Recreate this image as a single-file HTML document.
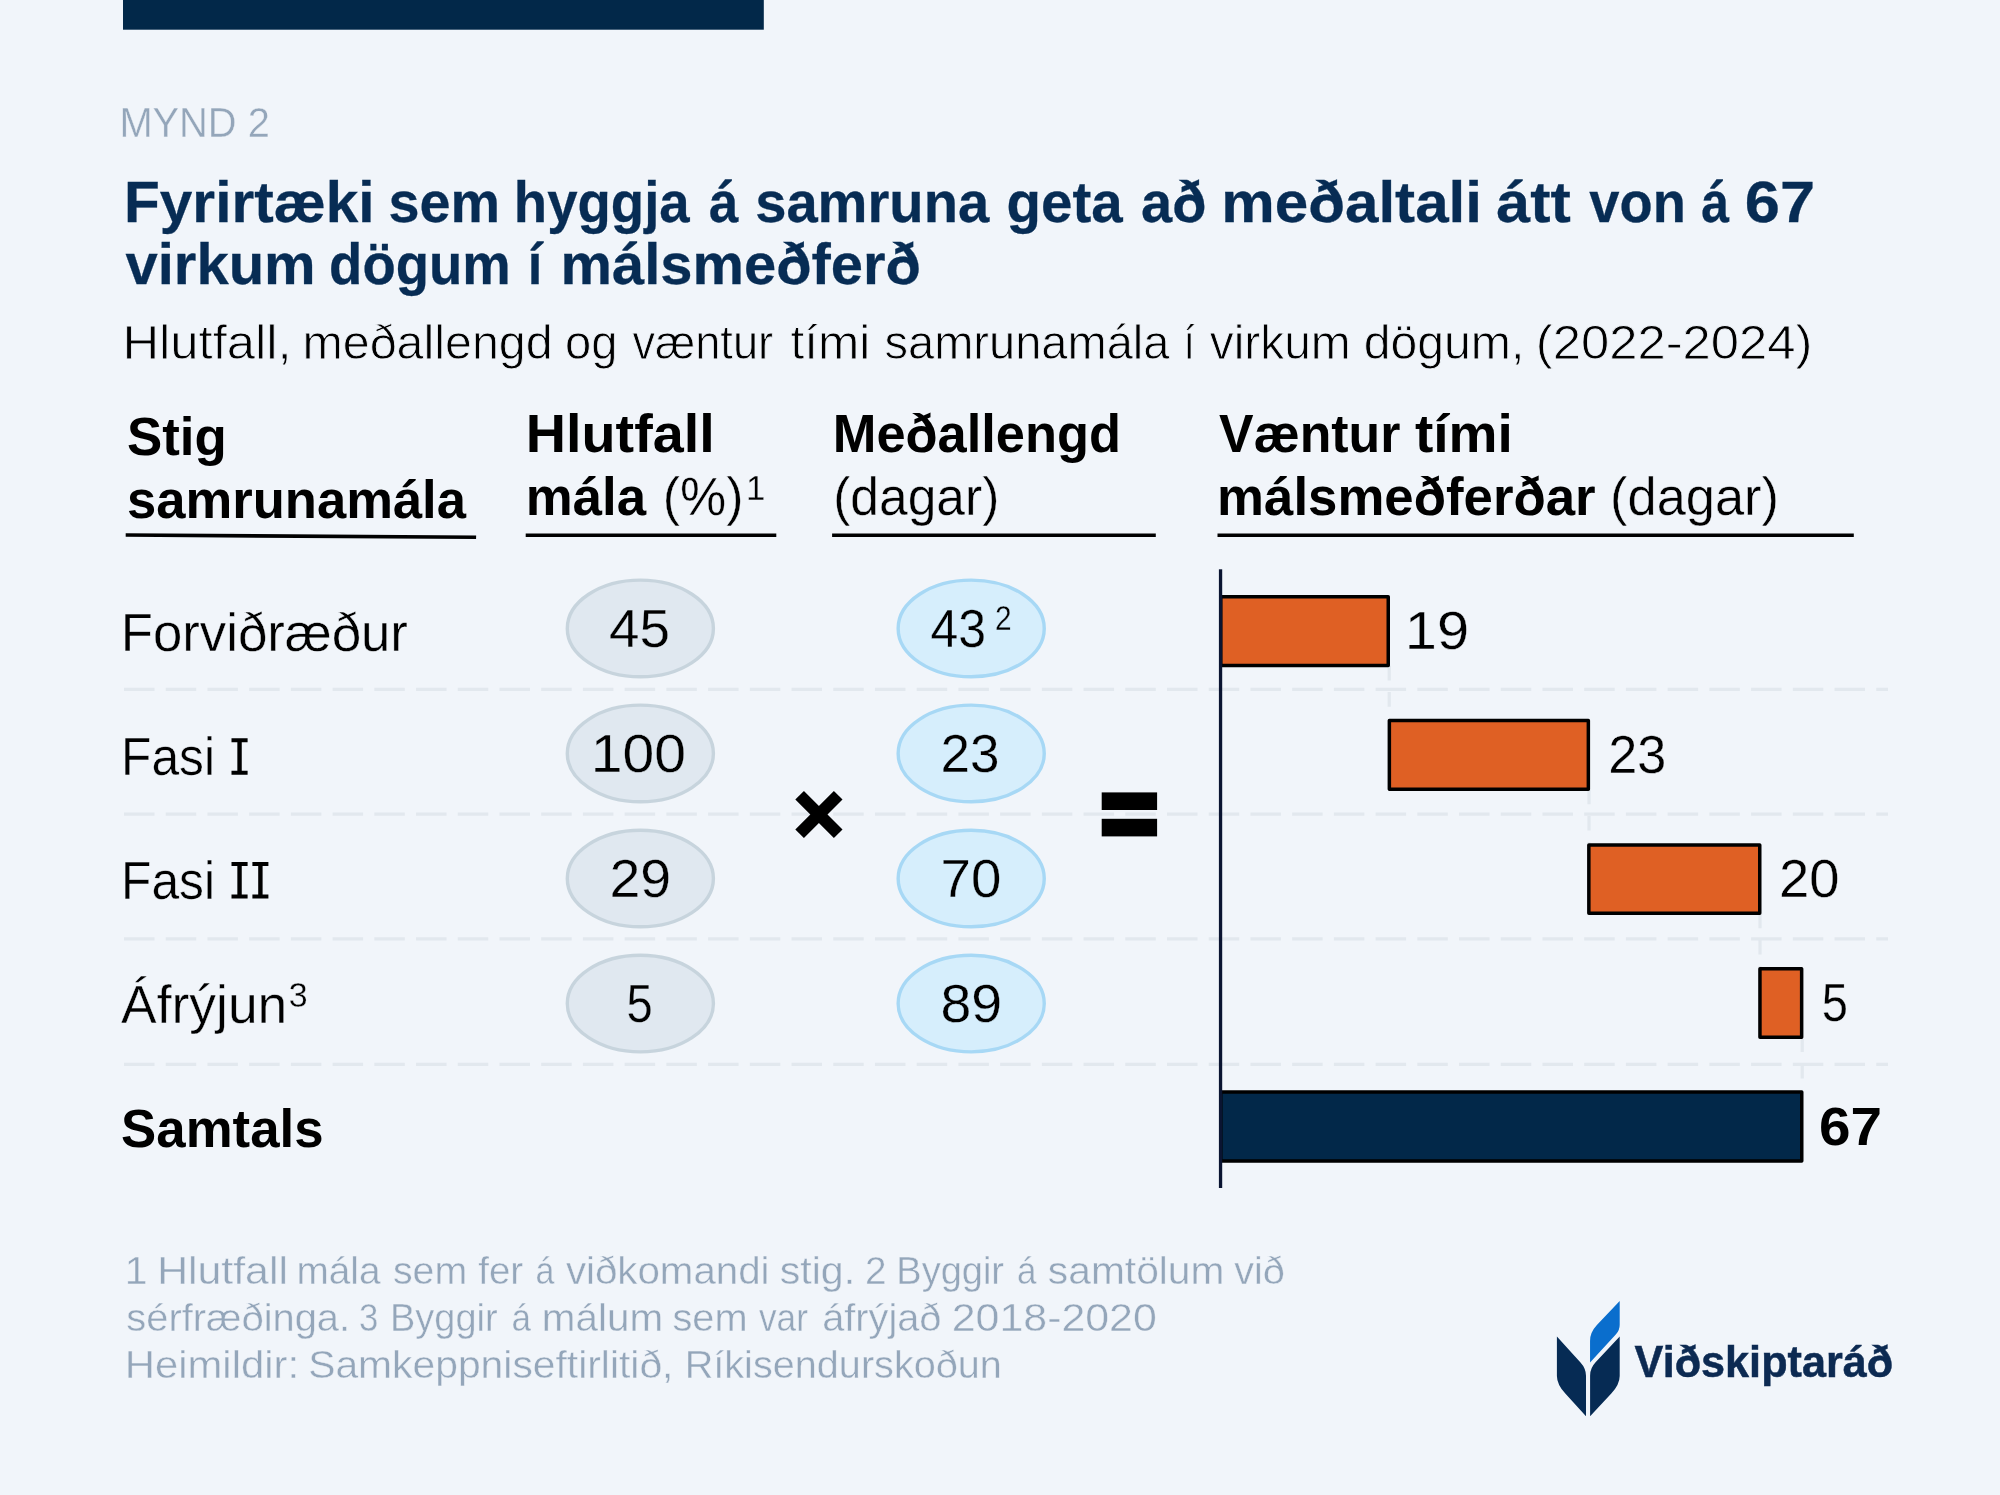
<!DOCTYPE html>
<html><head><meta charset="utf-8"><title>Mynd 2</title>
<style>
html,body{margin:0;padding:0;background:#f1f5fa;}
body{width:2000px;height:1495px;overflow:hidden;}
svg{display:block;will-change:transform;font-family:"Liberation Sans",sans-serif;}
</style></head><body>
<svg width="2000" height="1495" viewBox="0 0 2000 1495">
<rect width="2000" height="1495" fill="#f1f5fa"/>
<rect x="123" y="0" width="640.8" height="29.7" fill="#022849"/>
<line x1="125.7" y1="535.0" x2="476.1" y2="537.3" stroke="#000" stroke-width="3.6"/>
<line x1="525.7" y1="535.2" x2="776.3" y2="535.2" stroke="#000" stroke-width="3.6"/>
<line x1="832.1" y1="535.2" x2="1155.8" y2="535.2" stroke="#000" stroke-width="3.6"/>
<line x1="1217.5" y1="535.2" x2="1853.8" y2="535.2" stroke="#000" stroke-width="3.6"/>
<line x1="124" y1="689.3" x2="1888" y2="689.3" stroke="#e2e8ee" stroke-width="3.2" stroke-dasharray="30.5 11.22"/>
<line x1="124" y1="814.1" x2="1888" y2="814.1" stroke="#e2e8ee" stroke-width="3.2" stroke-dasharray="30.5 11.22"/>
<line x1="124" y1="938.9" x2="1888" y2="938.9" stroke="#e2e8ee" stroke-width="3.2" stroke-dasharray="30.5 11.22"/>
<line x1="124" y1="1064.4" x2="1888" y2="1064.4" stroke="#e2e8ee" stroke-width="3.2" stroke-dasharray="30.5 11.22"/>
<line x1="1389.2" y1="665.8000000000001" x2="1389.2" y2="718.8" stroke="#e2e8ee" stroke-width="3.2" stroke-dasharray="14.6 11.7"/>
<line x1="1589.0" y1="789.7" x2="1589.0" y2="843.2" stroke="#e2e8ee" stroke-width="3.2" stroke-dasharray="14.6 11.7"/>
<line x1="1760.0" y1="913.7" x2="1760.0" y2="967.0" stroke="#e2e8ee" stroke-width="3.2" stroke-dasharray="14.6 11.7"/>
<line x1="1802.2" y1="1037.5" x2="1802.2" y2="1090.2" stroke="#e2e8ee" stroke-width="3.2" stroke-dasharray="14.6 11.7"/>
<ellipse cx="640.35" cy="628.4" rx="73.05" ry="48.3" fill="#e0e8f0" stroke="#c7d4dd" stroke-width="3.4"/>
<ellipse cx="971.2" cy="628.4" rx="73.05" ry="48.3" fill="#d6eefc" stroke="#a7d8f5" stroke-width="3.4"/>
<ellipse cx="640.35" cy="753.4499999999999" rx="73.05" ry="48.3" fill="#e0e8f0" stroke="#c7d4dd" stroke-width="3.4"/>
<ellipse cx="971.2" cy="753.4499999999999" rx="73.05" ry="48.3" fill="#d6eefc" stroke="#a7d8f5" stroke-width="3.4"/>
<ellipse cx="640.35" cy="878.5" rx="73.05" ry="48.3" fill="#e0e8f0" stroke="#c7d4dd" stroke-width="3.4"/>
<ellipse cx="971.2" cy="878.5" rx="73.05" ry="48.3" fill="#d6eefc" stroke="#a7d8f5" stroke-width="3.4"/>
<ellipse cx="640.35" cy="1003.55" rx="73.05" ry="48.3" fill="#e0e8f0" stroke="#c7d4dd" stroke-width="3.4"/>
<ellipse cx="971.2" cy="1003.55" rx="73.05" ry="48.3" fill="#d6eefc" stroke="#a7d8f5" stroke-width="3.4"/>
<g transform="translate(818.9 814.5) rotate(45)"><rect x="-27.3" y="-6.1" width="54.6" height="12.2" fill="#000"/><rect x="-6.1" y="-27.3" width="12.2" height="54.6" fill="#000"/></g>
<rect x="1101.7" y="792.4" width="55.4" height="17.6" fill="#000"/>
<rect x="1101.7" y="818.8" width="55.4" height="17.6" fill="#000"/>
<rect x="1220.75" y="596.65" width="167.5" height="68.80000000000007" fill="#df6024" stroke="#000" stroke-width="3.5" stroke-linejoin="round"/>
<rect x="1389.35" y="720.55" width="199.0" height="68.80000000000007" fill="#df6024" stroke="#000" stroke-width="3.5" stroke-linejoin="round"/>
<rect x="1588.85" y="844.95" width="170.9000000000001" height="68.39999999999998" fill="#df6024" stroke="#000" stroke-width="3.5" stroke-linejoin="round"/>
<rect x="1759.95" y="968.75" width="41.700000000000045" height="68.40000000000009" fill="#df6024" stroke="#000" stroke-width="3.5" stroke-linejoin="round"/>
<rect x="1220.75" y="1091.95" width="581.0" height="69.0" fill="#022849" stroke="#000" stroke-width="3.5" stroke-linejoin="round"/>
<rect x="1218.9" y="569.3" width="3.3" height="618.7" fill="#0a1431"/>
<path d="M231.5 738.1999999999999H247.6V742.1999999999999H241.75V770.8H247.6V774.8H231.5V770.8H237.35000000000002V742.1999999999999H231.5Z" fill="#000"/>
<path d="M231.5 861.9H247.6V865.9H241.75V894.6H247.6V898.6H231.5V894.6H237.35000000000002V865.9H231.5Z" fill="#000"/>
<path d="M252.4 861.9H268.4V865.9H262.59999999999997V894.6H268.4V898.6H252.4V894.6H258.2V865.9H252.4Z" fill="#000"/>
<g>
<path d="M1556.9 1336.5 L1580.5 1362.4 Q1586 1368.4 1586 1375.8 L1586 1416.3 L1565.3 1393.5 Q1556.9 1384.3 1556.9 1375.9 Z" fill="#062b54"/>
<path d="M1619.7 1336.5 L1595.8 1362.1 Q1590.1 1368.2 1590.1 1375.4 L1590.1 1416.3 L1611.3 1393.5 Q1619.7 1384.3 1619.7 1375.9 Z" fill="#062b54"/>
<path d="M1619.7 1300.9 L1619.7 1324.7 Q1619.7 1330.2 1616 1334.2 L1590.05 1362.6 L1590.05 1340.8 Q1590.05 1332.5 1596.9 1325.1 Z" fill="#0a6ecd"/>
</g>
<text x="119.38" y="137" font-size="42.4" font-weight="normal" fill="#94a6ba" stroke="#f1f5fa" stroke-width="0.35" textLength="150.40" lengthAdjust="spacingAndGlyphs">MYND 2</text>
<text x="123.97" y="222" font-size="58.0" font-weight="bold" fill="#072c54" stroke="#072c54" stroke-width="0.3" textLength="250.68" lengthAdjust="spacingAndGlyphs">Fyrirtæki</text>
<text x="388.48" y="222" font-size="58.0" font-weight="bold" fill="#072c54" stroke="#072c54" stroke-width="0.3" textLength="111.55" lengthAdjust="spacingAndGlyphs">sem</text>
<text x="513.84" y="222" font-size="58.0" font-weight="bold" fill="#072c54" stroke="#072c54" stroke-width="0.3" textLength="175.86" lengthAdjust="spacingAndGlyphs">hyggja</text>
<text x="709.09" y="222" font-size="58.0" font-weight="bold" fill="#072c54" stroke="#072c54" stroke-width="0.3" textLength="29.33" lengthAdjust="spacingAndGlyphs">á</text>
<text x="755.16" y="222" font-size="58.0" font-weight="bold" fill="#072c54" stroke="#072c54" stroke-width="0.3" textLength="234.02" lengthAdjust="spacingAndGlyphs">samruna</text>
<text x="1006.55" y="222" font-size="58.0" font-weight="bold" fill="#072c54" stroke="#072c54" stroke-width="0.3" textLength="116.12" lengthAdjust="spacingAndGlyphs">geta</text>
<text x="1141.03" y="222" font-size="58.0" font-weight="bold" fill="#072c54" stroke="#072c54" stroke-width="0.3" textLength="65.34" lengthAdjust="spacingAndGlyphs">að</text>
<text x="1221.29" y="222" font-size="58.0" font-weight="bold" fill="#072c54" stroke="#072c54" stroke-width="0.3" textLength="260.74" lengthAdjust="spacingAndGlyphs">meðaltali</text>
<text x="1496.35" y="222" font-size="58.0" font-weight="bold" fill="#072c54" stroke="#072c54" stroke-width="0.3" textLength="74.48" lengthAdjust="spacingAndGlyphs">átt</text>
<text x="1589.30" y="222" font-size="58.0" font-weight="bold" fill="#072c54" stroke="#072c54" stroke-width="0.3" textLength="96.51" lengthAdjust="spacingAndGlyphs">von</text>
<text x="1701.24" y="222" font-size="58.0" font-weight="bold" fill="#072c54" stroke="#072c54" stroke-width="0.3" textLength="27.82" lengthAdjust="spacingAndGlyphs">á</text>
<text x="1744.82" y="222" font-size="58.0" font-weight="bold" fill="#072c54" stroke="#072c54" stroke-width="0.3" textLength="70.23" lengthAdjust="spacingAndGlyphs">67</text>
<text x="125.50" y="284" font-size="58.0" font-weight="bold" fill="#072c54" stroke="#072c54" stroke-width="0.3" textLength="190.17" lengthAdjust="spacingAndGlyphs">virkum</text>
<text x="329.12" y="284" font-size="58.0" font-weight="bold" fill="#072c54" stroke="#072c54" stroke-width="0.3" textLength="181.64" lengthAdjust="spacingAndGlyphs">dögum</text>
<text x="527.80" y="284" font-size="58.0" font-weight="bold" fill="#072c54" stroke="#072c54" stroke-width="0.3" textLength="14.50" lengthAdjust="spacingAndGlyphs">í</text>
<text x="560.51" y="284" font-size="58.0" font-weight="bold" fill="#072c54" stroke="#072c54" stroke-width="0.3" textLength="360.42" lengthAdjust="spacingAndGlyphs">málsmeðferð</text>
<text x="122.41" y="359" font-size="47.75" font-weight="normal" fill="#000" stroke="#f1f5fa" stroke-width="0.8" textLength="169.33" lengthAdjust="spacingAndGlyphs">Hlutfall,</text>
<text x="302.56" y="359" font-size="47.75" font-weight="normal" fill="#000" stroke="#f1f5fa" stroke-width="0.8" textLength="250.03" lengthAdjust="spacingAndGlyphs">meðallengd</text>
<text x="565.02" y="359" font-size="47.75" font-weight="normal" fill="#000" stroke="#f1f5fa" stroke-width="0.8" textLength="52.50" lengthAdjust="spacingAndGlyphs">og</text>
<text x="632.40" y="359" font-size="47.75" font-weight="normal" fill="#000" stroke="#f1f5fa" stroke-width="0.8" textLength="140.71" lengthAdjust="spacingAndGlyphs">væntur</text>
<text x="790.40" y="359" font-size="47.75" font-weight="normal" fill="#000" stroke="#f1f5fa" stroke-width="0.8" textLength="79.81" lengthAdjust="spacingAndGlyphs">tími</text>
<text x="884.51" y="359" font-size="47.75" font-weight="normal" fill="#000" stroke="#f1f5fa" stroke-width="0.8" textLength="284.95" lengthAdjust="spacingAndGlyphs">samrunamála</text>
<text x="1183.44" y="359" font-size="47.75" font-weight="normal" fill="#000" stroke="#f1f5fa" stroke-width="0.8" textLength="11.41" lengthAdjust="spacingAndGlyphs">í</text>
<text x="1209.80" y="359" font-size="47.75" font-weight="normal" fill="#000" stroke="#f1f5fa" stroke-width="0.8" textLength="140.88" lengthAdjust="spacingAndGlyphs">virkum</text>
<text x="1363.68" y="359" font-size="47.75" font-weight="normal" fill="#000" stroke="#f1f5fa" stroke-width="0.8" textLength="160.72" lengthAdjust="spacingAndGlyphs">dögum,</text>
<text x="1535.87" y="359" font-size="47.75" font-weight="normal" fill="#000" stroke="#f1f5fa" stroke-width="0.8" textLength="276.61" lengthAdjust="spacingAndGlyphs">(2022-2024)</text>
<text x="127.00" y="455" font-size="53.0" font-weight="bold" fill="#000" textLength="99.86" lengthAdjust="spacingAndGlyphs">Stig</text>
<text x="127.01" y="518" font-size="53.0" font-weight="bold" fill="#000" textLength="338.97" lengthAdjust="spacingAndGlyphs">samrunamála</text>
<text x="525.85" y="452" font-size="53.0" font-weight="bold" fill="#000" textLength="188.87" lengthAdjust="spacingAndGlyphs">Hlutfall</text>
<text x="525.76" y="515" font-size="53.0" font-weight="bold" fill="#000" textLength="120.32" lengthAdjust="spacingAndGlyphs">mála</text>
<text x="662.76" y="515" font-size="53.0" font-weight="normal" fill="#000" stroke="#f1f5fa" stroke-width="0.4" textLength="80.84" lengthAdjust="spacingAndGlyphs">(%)</text>
<text x="746.00" y="500" font-size="34.75" font-weight="normal" fill="#000" stroke="#f1f5fa" stroke-width="0.3" textLength="19.33" lengthAdjust="spacingAndGlyphs">1</text>
<text x="832.73" y="452" font-size="53.0" font-weight="bold" fill="#000" textLength="288.30" lengthAdjust="spacingAndGlyphs">Meðallengd</text>
<text x="833.18" y="515" font-size="53.0" font-weight="normal" fill="#000" stroke="#f1f5fa" stroke-width="0.4" textLength="166.20" lengthAdjust="spacingAndGlyphs">(dagar)</text>
<text x="1219.10" y="452" font-size="53.0" font-weight="bold" fill="#000" textLength="181.31" lengthAdjust="spacingAndGlyphs">Væntur</text>
<text x="1414.90" y="452" font-size="53.0" font-weight="bold" fill="#000" textLength="97.87" lengthAdjust="spacingAndGlyphs">tími</text>
<text x="1217.11" y="515" font-size="53.0" font-weight="bold" fill="#000" textLength="378.51" lengthAdjust="spacingAndGlyphs">málsmeðferðar</text>
<text x="1610.03" y="515" font-size="53.0" font-weight="normal" fill="#000" stroke="#f1f5fa" stroke-width="0.4" textLength="168.99" lengthAdjust="spacingAndGlyphs">(dagar)</text>
<text x="120.79" y="651" font-size="53.3" font-weight="normal" fill="#000" stroke="#f1f5fa" stroke-width="0.4" textLength="287.15" lengthAdjust="spacingAndGlyphs">Forviðræður</text>
<text x="121.02" y="775" font-size="53.3" font-weight="normal" fill="#000" stroke="#f1f5fa" stroke-width="0.4" textLength="93.93" lengthAdjust="spacingAndGlyphs">Fasi</text>
<text x="121.02" y="899" font-size="53.3" font-weight="normal" fill="#000" stroke="#f1f5fa" stroke-width="0.4" textLength="93.93" lengthAdjust="spacingAndGlyphs">Fasi</text>
<text x="121.10" y="1023" font-size="53.3" font-weight="normal" fill="#000" stroke="#f1f5fa" stroke-width="0.4" textLength="166.25" lengthAdjust="spacingAndGlyphs">Áfrýjun</text>
<text x="288.82" y="1007" font-size="34.75" font-weight="normal" fill="#000" stroke="#f1f5fa" stroke-width="0.3" textLength="18.87" lengthAdjust="spacingAndGlyphs">3</text>
<text x="121.11" y="1147" font-size="53.3" font-weight="bold" fill="#000" textLength="202.42" lengthAdjust="spacingAndGlyphs">Samtals</text>
<text x="608.97" y="647" font-size="53.0" font-weight="normal" fill="#000" stroke="#e0e8f0" stroke-width="0.3" textLength="60.96" lengthAdjust="spacingAndGlyphs">45</text>
<text x="590.89" y="772" font-size="53.0" font-weight="normal" fill="#000" stroke="#e0e8f0" stroke-width="0.3" textLength="95.20" lengthAdjust="spacingAndGlyphs">100</text>
<text x="609.41" y="897" font-size="53.0" font-weight="normal" fill="#000" stroke="#e0e8f0" stroke-width="0.3" textLength="61.68" lengthAdjust="spacingAndGlyphs">29</text>
<text x="626.52" y="1022" font-size="53.0" font-weight="normal" fill="#000" stroke="#e0e8f0" stroke-width="0.3" textLength="26.19" lengthAdjust="spacingAndGlyphs">5</text>
<text x="930.56" y="647" font-size="53.0" font-weight="normal" fill="#000" stroke="#d6eefc" stroke-width="0.3" textLength="55.53" lengthAdjust="spacingAndGlyphs">43</text>
<text x="994.93" y="630" font-size="34.75" font-weight="normal" fill="#000" stroke="#d6eefc" stroke-width="0.3" textLength="16.62" lengthAdjust="spacingAndGlyphs">2</text>
<text x="940.60" y="772" font-size="53.0" font-weight="normal" fill="#000" stroke="#d6eefc" stroke-width="0.3" textLength="58.98" lengthAdjust="spacingAndGlyphs">23</text>
<text x="940.54" y="897" font-size="53.0" font-weight="normal" fill="#000" stroke="#d6eefc" stroke-width="0.3" textLength="60.78" lengthAdjust="spacingAndGlyphs">70</text>
<text x="940.51" y="1022" font-size="53.0" font-weight="normal" fill="#000" stroke="#d6eefc" stroke-width="0.3" textLength="61.68" lengthAdjust="spacingAndGlyphs">89</text>
<text x="1404.84" y="649" font-size="53.0" font-weight="normal" fill="#000" stroke="#f1f5fa" stroke-width="0.3" textLength="64.26" lengthAdjust="spacingAndGlyphs">19</text>
<text x="1608.13" y="773" font-size="53.0" font-weight="normal" fill="#000" stroke="#f1f5fa" stroke-width="0.3" textLength="58.02" lengthAdjust="spacingAndGlyphs">23</text>
<text x="1779.05" y="897" font-size="53.0" font-weight="normal" fill="#000" stroke="#f1f5fa" stroke-width="0.3" textLength="60.47" lengthAdjust="spacingAndGlyphs">20</text>
<text x="1821.72" y="1021" font-size="53.0" font-weight="normal" fill="#000" stroke="#f1f5fa" stroke-width="0.3" textLength="26.19" lengthAdjust="spacingAndGlyphs">5</text>
<text x="1818.93" y="1145" font-size="53.0" font-weight="bold" fill="#000" textLength="63.05" lengthAdjust="spacingAndGlyphs">67</text>
<text x="124.80" y="1284" font-size="39.5" font-weight="normal" fill="#94a6ba" stroke="#f1f5fa" stroke-width="0.4" textLength="22.70" lengthAdjust="spacingAndGlyphs">1</text>
<text x="157.15" y="1284" font-size="39.5" font-weight="normal" fill="#94a6ba" stroke="#f1f5fa" stroke-width="0.4" textLength="130.77" lengthAdjust="spacingAndGlyphs">Hlutfall</text>
<text x="296.44" y="1284" font-size="39.5" font-weight="normal" fill="#94a6ba" stroke="#f1f5fa" stroke-width="0.4" textLength="84.03" lengthAdjust="spacingAndGlyphs">mála</text>
<text x="392.91" y="1284" font-size="39.5" font-weight="normal" fill="#94a6ba" stroke="#f1f5fa" stroke-width="0.4" textLength="74.19" lengthAdjust="spacingAndGlyphs">sem</text>
<text x="478.20" y="1284" font-size="39.5" font-weight="normal" fill="#94a6ba" stroke="#f1f5fa" stroke-width="0.4" textLength="45.05" lengthAdjust="spacingAndGlyphs">fer</text>
<text x="535.41" y="1284" font-size="39.5" font-weight="normal" fill="#94a6ba" stroke="#f1f5fa" stroke-width="0.4" textLength="18.89" lengthAdjust="spacingAndGlyphs">á</text>
<text x="565.90" y="1284" font-size="39.5" font-weight="normal" fill="#94a6ba" stroke="#f1f5fa" stroke-width="0.4" textLength="203.61" lengthAdjust="spacingAndGlyphs">viðkomandi</text>
<text x="779.66" y="1284" font-size="39.5" font-weight="normal" fill="#94a6ba" stroke="#f1f5fa" stroke-width="0.4" textLength="75.44" lengthAdjust="spacingAndGlyphs">stig.</text>
<text x="865.02" y="1284" font-size="39.5" font-weight="normal" fill="#94a6ba" stroke="#f1f5fa" stroke-width="0.4" textLength="21.51" lengthAdjust="spacingAndGlyphs">2</text>
<text x="896.31" y="1284" font-size="39.5" font-weight="normal" fill="#94a6ba" stroke="#f1f5fa" stroke-width="0.4" textLength="107.73" lengthAdjust="spacingAndGlyphs">Byggir</text>
<text x="1017.01" y="1284" font-size="39.5" font-weight="normal" fill="#94a6ba" stroke="#f1f5fa" stroke-width="0.4" textLength="19.46" lengthAdjust="spacingAndGlyphs">á</text>
<text x="1047.87" y="1284" font-size="39.5" font-weight="normal" fill="#94a6ba" stroke="#f1f5fa" stroke-width="0.4" textLength="176.60" lengthAdjust="spacingAndGlyphs">samtölum</text>
<text x="1234.20" y="1284" font-size="39.5" font-weight="normal" fill="#94a6ba" stroke="#f1f5fa" stroke-width="0.4" textLength="50.57" lengthAdjust="spacingAndGlyphs">við</text>
<text x="126.29" y="1331" font-size="39.5" font-weight="normal" fill="#94a6ba" stroke="#f1f5fa" stroke-width="0.4" textLength="223.81" lengthAdjust="spacingAndGlyphs">sérfræðinga.</text>
<text x="358.92" y="1331" font-size="39.5" font-weight="normal" fill="#94a6ba" stroke="#f1f5fa" stroke-width="0.4" textLength="19.33" lengthAdjust="spacingAndGlyphs">3</text>
<text x="390.02" y="1331" font-size="39.5" font-weight="normal" fill="#94a6ba" stroke="#f1f5fa" stroke-width="0.4" textLength="107.53" lengthAdjust="spacingAndGlyphs">Byggir</text>
<text x="511.41" y="1331" font-size="39.5" font-weight="normal" fill="#94a6ba" stroke="#f1f5fa" stroke-width="0.4" textLength="19.46" lengthAdjust="spacingAndGlyphs">á</text>
<text x="541.85" y="1331" font-size="39.5" font-weight="normal" fill="#94a6ba" stroke="#f1f5fa" stroke-width="0.4" textLength="121.19" lengthAdjust="spacingAndGlyphs">málum</text>
<text x="672.49" y="1331" font-size="39.5" font-weight="normal" fill="#94a6ba" stroke="#f1f5fa" stroke-width="0.4" textLength="75.12" lengthAdjust="spacingAndGlyphs">sem</text>
<text x="759.00" y="1331" font-size="39.5" font-weight="normal" fill="#94a6ba" stroke="#f1f5fa" stroke-width="0.4" textLength="48.84" lengthAdjust="spacingAndGlyphs">var</text>
<text x="822.19" y="1331" font-size="39.5" font-weight="normal" fill="#94a6ba" stroke="#f1f5fa" stroke-width="0.4" textLength="119.18" lengthAdjust="spacingAndGlyphs">áfrýjað</text>
<text x="951.71" y="1331" font-size="39.5" font-weight="normal" fill="#94a6ba" stroke="#f1f5fa" stroke-width="0.4" textLength="205.14" lengthAdjust="spacingAndGlyphs">2018-2020</text>
<text x="124.72" y="1378" font-size="39.5" font-weight="normal" fill="#94a6ba" stroke="#f1f5fa" stroke-width="0.4" textLength="174.33" lengthAdjust="spacingAndGlyphs">Heimildir:</text>
<text x="308.17" y="1378" font-size="39.5" font-weight="normal" fill="#94a6ba" stroke="#f1f5fa" stroke-width="0.4" textLength="365.31" lengthAdjust="spacingAndGlyphs">Samkeppniseftirlitið,</text>
<text x="684.69" y="1378" font-size="39.5" font-weight="normal" fill="#94a6ba" stroke="#f1f5fa" stroke-width="0.4" textLength="317.18" lengthAdjust="spacingAndGlyphs">Ríkisendurskoðun</text>
<text x="1634.60" y="1377" font-size="45.0" font-weight="bold" fill="#0c2a52" stroke="#0c2a52" stroke-width="0.5" textLength="258.63" lengthAdjust="spacingAndGlyphs">Viðskiptaráð</text>
</svg>
</body></html>
